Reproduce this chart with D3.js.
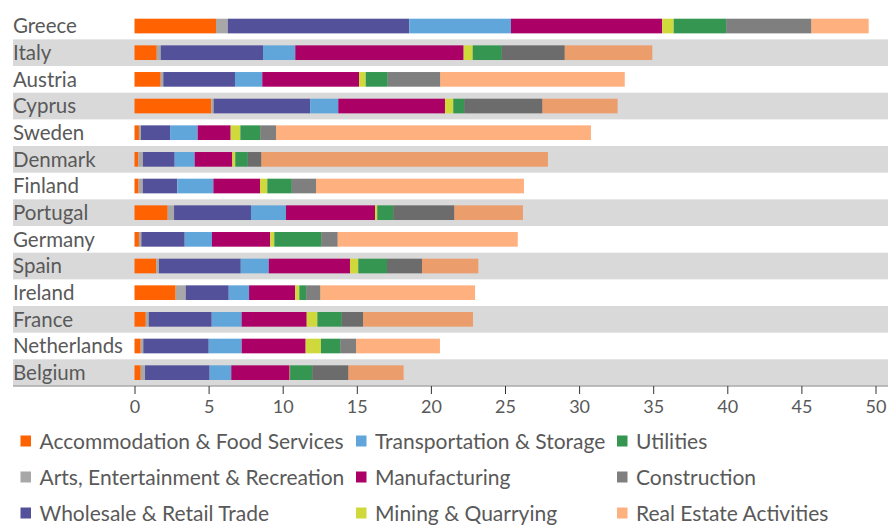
<!DOCTYPE html>
<html>
<head>
<meta charset="utf-8">
<script src="https://cdn.jsdelivr.net/npm/d3@7"></script>
<style>
  body { margin: 0; background: #fff; }
  svg text { font-family: Lato, "Open Sans", sans-serif; fill: #595959; }
</style>
</head>
<body>
<div id="chart"></div>
<script>
// data
const countries = ["Greece", "Italy", "Austria", "Cyprus", "Sweden", "Denmark", "Finland",
  "Portugal", "Germany", "Spain", "Ireland", "France", "Netherlands", "Belgium"];

const sectors = ["Accommodation & Food Services", "Arts, Entertainment & Recreation",
  "Wholesale & Retail Trade", "Transportation & Storage", "Manufacturing",
  "Mining & Quarrying", "Utilities", "Construction", "Real Estate Activities"];

const accommodation = [5.5, 1.5, 1.77, 5.18, 0.3, 0.26, 0.28, 2.24, 0.3, 1.47, 2.78, 0.76, 0.42, 0.42];
const arts = [0.79, 0.27, 0.17, 0.16, 0.14, 0.31, 0.27, 0.43, 0.16, 0.18, 0.67, 0.2, 0.17, 0.29];
const wholesale = [12.25, 6.9, 4.84, 6.52, 1.96, 2.14, 2.34, 5.19, 2.93, 5.52, 2.91, 4.25, 4.42, 4.36];
const transport = [6.86, 2.18, 1.84, 1.89, 1.86, 1.35, 2.43, 2.36, 1.84, 1.89, 1.37, 2.02, 2.22, 1.46];
const manufacturing = [10.21, 11.36, 6.53, 7.2, 2.23, 2.54, 3.15, 6.01, 3.93, 5.48, 3.12, 4.39, 4.32, 3.94];
const mining = [0.77, 0.61, 0.45, 0.56, 0.65, 0.2, 0.49, 0.15, 0.27, 0.56, 0.27, 0.72, 1.03, 0.03];
const utilities = [3.55, 1.96, 1.48, 0.74, 1.35, 0.84, 1.65, 1.08, 3.17, 1.94, 0.47, 1.64, 1.31, 1.5];
const construction = [5.74, 4.25, 3.55, 5.27, 1.06, 0.92, 1.64, 4.12, 1.11, 2.36, 0.95, 1.44, 1.06, 2.43];
const realEstate = [3.87, 5.91, 12.45, 5.08, 21.25, 19.34, 14.03, 4.63, 12.15, 3.8, 10.44, 7.42, 5.66, 3.73];

const xTicks = [0, 5, 10, 15, 20, 25, 30, 35, 40, 45, 50];

const seriesValues = [accommodation, arts, wholesale, transport, manufacturing,
  mining, utilities, construction, realEstate];

const table = countries.map((c, i) => {
  const row = { country: c };
  sectors.forEach((s, j) => (row[s] = seriesValues[j][i]));
  return row;
});

// size
const width = 888;
const height = 525;

// scale
const x = d3.scaleLinear().domain([0, 50]).range([134.5, 875.5]);
const y = d3.scaleBand().domain(countries).range([12.7, 386]);

// fill + opacity per sector
const sectorColor = d3.scaleOrdinal().domain(sectors).range([
  "#ff6200", "#a8a8a8", "#525199", "#60a6da", "#ab0066",
  "#d0d93c", "#349651", "#000000", "#ff6200"]);
const sectorOpacity = d3.scaleOrdinal().domain(sectors).range([1, 1, 1, 1, 1, 1, 1, 0.5, 0.5]);

const svg = d3.select("#chart").append("svg")
  .attr("width", width)
  .attr("height", height);

//bands
svg.selectAll("rect.band")
  .data(countries.filter((d, i) => i % 2 === 1))
  .join("rect")
  .attr("class", "band")
  .attr("x", 13)
  .attr("y", (d) => y(d))
  .attr("width", width - 13)
  .attr("height", y.bandwidth())
  .attr("fill", "#d9d9d9");

//country labels
svg.selectAll("text.country")
  .data(countries)
  .join("text")
  .attr("class", "country")
  .attr("x", 13)
  .attr("y", (d) => y(d) + y.bandwidth() / 2)
  .attr("dy", "0.36em")
  .attr("font-size", 20.5)
  .text((d) => d);

//bars
const stacked = d3.stack().keys(sectors)(table);
const barH = y.bandwidth() * 0.55;

svg.selectAll("g.series")
  .data(stacked)
  .join("g")
  .attr("class", "series")
  .attr("fill", (d) => sectorColor(d.key))
  .attr("fill-opacity", (d) => sectorOpacity(d.key))
  .selectAll("rect")
  .data((d) => d)
  .join("rect")
  .attr("x", (d) => x(d[0]))
  .attr("width", (d) => x(d[1]) - x(d[0]))
  .attr("y", (d) => y(d.data.country) + (y.bandwidth() - barH) / 2)
  .attr("height", barH);

//axis
const axisY = 386;
svg.append("line")
  .attr("x1", 13).attr("x2", width)
  .attr("y1", axisY).attr("y2", axisY)
  .attr("stroke", "#aaaaaa")
  .attr("stroke-width", 1.5);

const xAxis = svg.append("g")
  .attr("transform", `translate(0,${axisY})`)
  .call(d3.axisBottom(x).tickValues(xTicks).tickSize(8).tickPadding(6).tickFormat(d3.format("d")));
xAxis.select(".domain").remove();
xAxis.selectAll(".tick line").attr("stroke", "#333");
xAxis.selectAll(".tick text")
  .attr("font-size", 18)
  .attr("font-family", "Lato, sans-serif")
  .attr("fill", "#595959");

//legend
const legendCols = [20.5, 356, 617];
const legendRows = [441, 477, 513];
const legendItem = svg.selectAll("g.legend-item")
  .data(sectors)
  .join("g")
  .attr("class", "legend-item")
  .attr("transform", (d, i) =>
    `translate(${legendCols[Math.floor(i / 3)]},${legendRows[i % 3]})`);

legendItem.append("rect")
  .attr("x", 0)
  .attr("y", -5.5)
  .attr("width", 10.5)
  .attr("height", 11)
  .attr("fill", (d) => sectorColor(d))
  .attr("fill-opacity", (d) => sectorOpacity(d));

legendItem.append("text")
  .attr("x", 19)
  .attr("dy", "0.36em")
  .attr("font-size", 21)
  .text((d) => d);
</script>
</body>
</html>
